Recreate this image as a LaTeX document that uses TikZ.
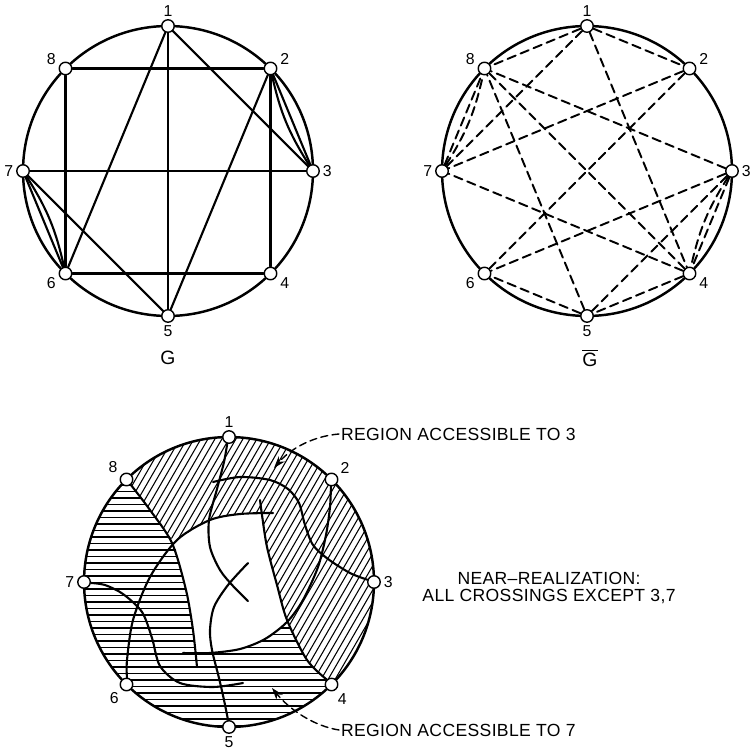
\documentclass[tikz,border=0pt]{standalone}
\usepackage{fontspec}
\setmainfont{Liberation Sans}
\newfontfamily\lettering[LetterSpace=2]{Liberation Sans}
\usetikzlibrary{arrows.meta}

\newcommand{\diagregion}{(p8) arc[start angle=135,end angle=-45,radius=2.9cm]
  -- plot[smooth] coordinates {(p4) (307,660) (287,620) (277,585) (267,547) (261,514)}
  -- plot[smooth] coordinates {(261,514) (240,514) (210,520) (174,542)}
  -- plot[smooth] coordinates {(174,542) (150,510) (p8)} -- cycle}
\newcommand{\whiteregion}{plot[smooth] coordinates {(174,542) (210,520) (240,514) (261,514)}
  -- plot[smooth] coordinates {(261,514) (267,547) (277,585) (287,622)}
  -- plot[smooth] coordinates {(287,622) (265,639) (240,649) (210,653) (196,653)}
  -- plot[smooth] coordinates {(196,653) (193,630) (186,590) (174,542)} -- cycle}

\begin{document}
\begin{tikzpicture}[x=0.02cm,y=-0.02cm,line cap=round,
  rim/.style={line width=1.4pt},
  edge/.style={line width=1.2pt},
  dedge/.style={line width=1.1pt,dash pattern=on 5pt off 3pt},
  vtx/.style={circle,draw,fill=white,line width=0.8pt,inner sep=0pt,minimum size=0.25cm},
  num/.style={font=\fontsize{9}{10}\selectfont,inner sep=1.5pt},
  hatch/.style={line width=0.6pt},
  leader/.style={line width=0.8pt,dash pattern=on 4pt off 2.5pt,-{Stealth[length=2.4mm,width=1.6mm]}},
  note/.style={font=\lettering\fontsize{10}{10.2}\selectfont,inner sep=1pt},
  gname/.style={font=\lettering\fontsize{11}{12}\selectfont,inner sep=1pt}]
\useasboundingbox (0,0) rectangle (750,753);

\coordinate (cg) at (168,171);
\draw[rim] (cg) circle[radius=2.9cm];
\foreach \i/\a/\p in {1/90/90,2/45/10,3/0/0,4/-45/-10,5/-90/-90,6/-135/190,7/180/180,8/135/170}
  \node[vtx,label={[num]\p:\i}] (g\i) at ([shift={(\a:2.9cm)}]cg) {};
\foreach \a/\b in {1/3,1/5,1/6,2/3,2/4,2/5,2/8,3/7,4/6,5/7,6/7,6/8}
  \draw[edge] (g\a) -- (g\b);
\draw[edge] (g2) to[bend right=10] (g3);
\draw[edge] (g6) to[bend right=10] (g7);
\node[gname] (gG) at (168,358) {G};

\coordinate (ch) at (587,171);
\draw[rim] (ch) circle[radius=2.9cm];
\foreach \i/\a/\p in {1/90/90,2/45/10,3/0/0,4/-45/-10,5/-90/-90,6/-135/190,7/180/180,8/135/170}
  \node[vtx,label={[num]\p:\i}] (h\i) at ([shift={(\a:2.9cm)}]ch) {};
\foreach \a/\b in {1/2,1/4,1/7,1/8,2/6,2/7,3/4,3/5,3/6,3/8,4/5,4/7,4/8,5/6,5/8,7/8}
  \draw[dedge] (h\a) -- (h\b);
\draw[dedge] (h3) to[bend right=10] (h4);
\draw[dedge] (h7) to[bend right=10] (h8);
\node[gname] (hG) at (590,358) {$\overline{\mbox{G}}$};

\coordinate (cn) at (229,582);
\foreach \i/\a in {1/90,2/45,3/0,4/-45,5/-90,6/-135,7/180,8/135}
  \coordinate (p\i) at ([shift={(\a:2.9cm)}]cn);
\begin{scope}
  \clip (cn) circle[radius=2.9cm];
  \foreach \y in {433,439.5,...,735}
    \draw[hatch] (70,\y) -- (390,\y);
  \fill[white] \diagregion;
  \fill[white] \whiteregion;
  \clip \diagregion;
  \foreach \x in {-40,-33,...,380}
    \draw[hatch] (\x,735) -- ++(179,-310);
\end{scope}
\draw[rim] (cn) circle[radius=2.9cm];
\foreach \i/\p in {1/90,2/30,3/0,4/-60,5/-90,6/-135,7/180,8/150}
  \node[vtx,label={[num]\p:\i}] (n\i) at (p\i) {};
\draw[edge] plot[smooth] coordinates {(n1.-105) (224,462) (217,489) (209,520) (210,547) (220,570) (233,586) (248,601)};
\draw[edge] plot[smooth] coordinates {(n2.-95) (330,507) (326,535) (318,567) (303,600) (287,622) (265,639) (240,649) (210,653) (183,653)};
\draw[edge] plot[smooth] coordinates {(n3.161) (350,573) (328,559) (313,545) (305,525) (299,503) (288,489) (270,480) (240,477) (213,482)};
\draw[edge] plot[smooth] coordinates {(n4.134) (307,660) (287,620) (277,585) (267,547) (262,515) (260,500)};
\draw[edge] plot[smooth] coordinates {(n5.98) (224,700) (219,678) (212,650) (210,630) (214,607) (228,585) (248,563)};
\draw[edge] plot[smooth] coordinates {(n6.86) (127,660) (133,620) (150,577) (177,540) (210,520) (240,514) (273,513)};
\draw[edge] plot[smooth] coordinates {(n7.-8) (105,585) (123,594) (142,612) (152,638) (160,666) (180,683) (213,687) (243,683)};
\draw[edge] plot[smooth] coordinates {(n8.-51) (150,510) (172,543) (186,590) (193,630) (197,667)};

\node[note,anchor=west] (t3) at (339,434) {REGION ACCESSIBLE TO 3};
\coordinate (a3) at (274,468);
\draw[leader] (t3.west) .. controls (315,436) and (292,447) .. (a3);
\node[note,anchor=west] (t7) at (339,730) {REGION ACCESSIBLE TO 7};
\coordinate (a7) at (272,688);
\draw[leader] (t7.west) .. controls (314,726) and (290,710) .. (a7);
\node[note,align=center] (nr) at (549,588) {NEAR–REALIZATION:\\ALL CROSSINGS EXCEPT 3,7};
\end{tikzpicture}
\end{document}
